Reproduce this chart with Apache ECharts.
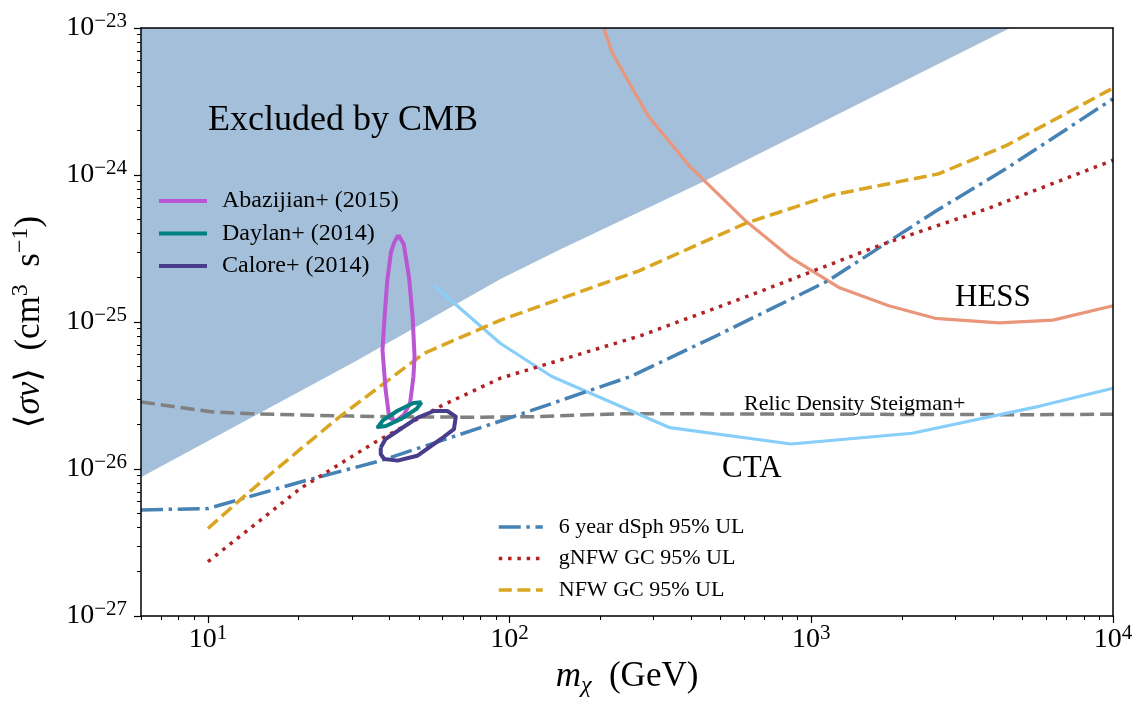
<!DOCTYPE html>
<html>
<head>
<meta charset="utf-8">
<script src="https://cdn.jsdelivr.net/npm/echarts@6/dist/echarts.min.js"></script>
<style>
html,body{margin:0;padding:0;background:#fff;overflow:hidden;}
#chart{width:1136px;height:703px;}
</style>
</head>
<body>
<div id="chart"></div>
<script>
// ---------------- data ----------------
const massMin = 6, massMax = 1e4;
const sigmaMinExp = -27, sigmaMaxExp = -23;
const xTickExps = [1, 2, 3, 4];
const yTickExps = [-27, -26, -25, -24, -23];

const cmbMass  = [6, 31.4, 93.3, 147.6, 438, 4560];
const cmbSigma = [8.8e-27, 5.52e-26, 1.96e-25, 3.12e-25, 9.0e-25, 1e-23];

const relicMass  = [6, 10.4, 13.9, 20, 30, 50, 80, 120, 238, 500, 1000, 5730, 10000];
const relicSigma = [2.86e-26, 2.44e-26, 2.38e-26, 2.33e-26, 2.29e-26, 2.26e-26, 2.25e-26, 2.27e-26, 2.38e-26, 2.37e-26, 2.36e-26, 2.34e-26, 2.36e-26];

const dsphMass  = [6, 10, 20, 37.4, 93.3, 252, 489, 1138, 2574, 4440, 10000];
const dsphSigma = [5.27e-27, 5.38e-27, 8.1e-27, 1.14e-26, 2.12e-26, 4.26e-26, 8.13e-26, 1.91e-25, 5.65e-25, 1.11e-24, 3.3e-24];

const gnfwMass  = [10, 20.3, 35.6, 59.2, 93.3, 275, 643, 1710, 3870, 10000];
const gnfwSigma = [2.34e-27, 7.4e-27, 1.51e-26, 2.68e-26, 4.15e-26, 8.13e-26, 1.55e-25, 3.36e-25, 5.94e-25, 1.26e-24];

const nfwMass  = [10, 13.5, 20.3, 27.5, 52, 93.3, 147.6, 268.5, 608, 1170, 2650, 4440, 10000];
const nfwSigma = [3.94e-27, 6.8e-27, 1.37e-26, 2.29e-26, 6.12e-26, 1.03e-25, 1.44e-25, 2.23e-25, 4.71e-25, 7.31e-25, 1.02e-24, 1.59e-24, 3.9e-24];

const ctaMass  = [56.1, 93.3, 138, 340, 857, 2160, 5730, 10000];
const ctaSigma = [1.77e-25, 7.14e-26, 4.26e-26, 1.91e-26, 1.48e-26, 1.75e-26, 2.68e-26, 3.54e-26];

const hessMass  = [205, 219, 287.5, 393, 608, 855, 1234, 1806, 2574, 4200, 6320, 10000];
const hessSigma = [1e-23, 6.76e-24, 2.53e-24, 1.16e-24, 4.84e-25, 2.74e-25, 1.72e-25, 1.29e-25, 1.06e-25, 9.85e-26, 1.03e-25, 1.29e-25];

const abazMass  = [42.8, 44.6, 46.4, 47.7, 48.4, 48.0, 46.8, 44.7, 42.0, 39.9, 38.8, 37.9, 38.5, 39.3, 40.4, 41.4, 42.8];
const abazSigma = [3.9e-25, 3.37e-25, 2.01e-25, 1.08e-25, 5.81e-26, 4.26e-26, 2.82e-26, 2.35e-26, 2.12e-26, 2.23e-26, 3.47e-26, 6.44e-26, 1.08e-25, 1.91e-25, 2.96e-25, 3.46e-25, 3.9e-25];

const daylanMass  = [51.1, 49.2, 44.0, 38.9, 36.6, 38.0, 42.5, 48.0, 51.1];
const daylanSigma = [2.85e-26, 2.57e-26, 2.21e-26, 1.96e-26, 1.93e-26, 2.14e-26, 2.49e-26, 2.81e-26, 2.85e-26];

const caloreMass  = [37.4, 38.8, 43.5, 49.4, 56.1, 62.2, 66.3, 65.4, 59.2, 49.4, 42.5, 38.4, 37.4, 37.4];
const caloreSigma = [1.40e-26, 1.60e-26, 1.87e-26, 2.23e-26, 2.48e-26, 2.48e-26, 2.27e-26, 1.87e-26, 1.60e-26, 1.23e-26, 1.14e-26, 1.17e-26, 1.26e-26, 1.40e-26];

const legendTop = ['Abazijian+ (2015)', 'Daylan+ (2014)', 'Calore+ (2014)'];
const legendBottom = ['6 year dSph 95% UL', 'gNFW GC 95% UL', 'NFW GC 95% UL'];

// ---------------- helpers ----------------
const FONT = '"Liberation Serif","DejaVu Serif",serif';
const L = Math.log10;
const pts = (ms, ss) => ms.map((m, i) => [L(m), L(ss[i])]);
function minorLogs(lo, hi) {
  const out = [];
  for (let e = lo; e < hi; e++) for (let k = 2; k <= 9; k++) out.push(e + L(k));
  return out;
}
const xMinor = minorLogs(0, 4).filter(v => v >= L(massMin) && v <= L(massMax));
const yMinor = minorLogs(sigmaMinExp, sigmaMaxExp);

const tickRich = {
  b: {fontFamily: FONT, fontSize: 28, lineHeight: 34, color: '#000'},
  s: {fontFamily: FONT, fontSize: 21, lineHeight: 24, verticalAlign: 'top', color: '#000'}
};
const nameRich = {
  n: {fontFamily: FONT, fontSize: 35, lineHeight: 42, color: '#000'},
  i: {fontFamily: FONT, fontSize: 35, lineHeight: 42, fontStyle: 'italic', color: '#000'},
  s: {fontFamily: FONT, fontSize: 24, lineHeight: 26, verticalAlign: 'top', color: '#000'},
  sub: {fontFamily: FONT, fontSize: 24, lineHeight: 20, fontStyle: 'italic', verticalAlign: 'bottom', color: '#000'}
};

const common = {type: 'value', min: L(massMin), max: L(massMax), splitLine: {show: false}, z: 10};
const ycommon = {type: 'value', min: sigmaMinExp, max: sigmaMaxExp, splitLine: {show: false}, z: 10};
const axisLine = {show: true, lineStyle: {color: '#000', width: 1.5}};

function lineSeries(name, data, color, width, type, extra) {
  return Object.assign({
    name, type: 'line', data, symbol: 'none', showSymbol: false, smooth: false,
    xAxisIndex: 0, yAxisIndex: 0, animation: false,
    lineStyle: {color, width, type, cap: 'butt', join: 'round'},
    itemStyle: {color}
  }, extra || {});
}

const chart = echarts.init(document.getElementById('chart'), null, {renderer: 'canvas'});
const option = {
  backgroundColor: '#fff',
  animation: false,
  grid: {left: 141, right: 23, top: 28, bottom: 81, containLabel: false},
  xAxis: [
    Object.assign({}, common, {
      position: 'bottom', axisLine,
      axisTick: {show: true, inside: false, length: 7, customValues: xTickExps, lineStyle: {color: '#000', width: 1.2}},
      axisLabel: {show: true, margin: 7, customValues: xTickExps, formatter: v => '{b|10}{s|' + Math.round(v) + '}', rich: tickRich},
      name: '{i|m}{sub|χ}{n|  (GeV)}', nameLocation: 'middle', nameGap: 40,
      nameTextStyle: {fontFamily: FONT, fontSize: 35, color: '#000', rich: nameRich}
    }),
    Object.assign({}, common, {
      position: 'bottom', axisLine: {show: false},
      axisTick: {show: true, inside: false, length: 4, customValues: xMinor, lineStyle: {color: '#000', width: 1}},
      axisLabel: {show: false}
    }),
    Object.assign({}, common, {
      position: 'top', axisLine, axisTick: {show: false}, axisLabel: {show: false}
    })
  ],
  yAxis: [
    Object.assign({}, ycommon, {
      position: 'left', axisLine,
      axisTick: {show: true, inside: false, length: 7, customValues: yTickExps, lineStyle: {color: '#000', width: 1.2}},
      axisLabel: {show: true, margin: 14, customValues: yTickExps, formatter: v => '{b|10}{s|−' + Math.round(-v) + '}', rich: tickRich},
      name: '{n|⟨}{i|σv}{n|⟩  (cm}{s|3}{n|  s}{s|−1}{n|)}', nameLocation: 'middle', nameGap: 90,
      nameTextStyle: {fontFamily: FONT, fontSize: 35, color: '#000', rich: nameRich}
    }),
    Object.assign({}, ycommon, {
      position: 'left', axisLine: {show: false},
      axisTick: {show: true, inside: false, length: 4, customValues: yMinor, lineStyle: {color: '#000', width: 1}},
      axisLabel: {show: false}
    }),
    Object.assign({}, ycommon, {
      position: 'right', axisLine, axisTick: {show: false}, axisLabel: {show: false}
    })
  ],
  legend: [
    {
      data: legendTop, orient: 'vertical', left: 157, top: 189, padding: 0, itemWidth: 48, itemHeight: 14, itemGap: 8.5,
      selectedMode: false, itemStyle: {opacity: 0}, lineStyle: {width: 4},
      textStyle: {fontFamily: FONT, fontSize: 24, lineHeight: 24, color: '#000', padding: [0, 0, 0, 10]}
    },
    {
      data: legendBottom, orient: 'vertical', left: 497, top: 516, padding: 0, itemWidth: 44, itemHeight: 14, itemGap: 9.5,
      selectedMode: false, itemStyle: {opacity: 0}, lineStyle: {width: 3.5},
      textStyle: {fontFamily: FONT, fontSize: 22, lineHeight: 22, color: '#000', padding: [0, 0, 0, 11]}
    }
  ],
  graphic: [
    {type: 'text', z: 100, x: 208, y: 120.5, style: {text: 'Excluded by CMB', font: '36px ' + FONT, fill: '#000', textAlign: 'left', textVerticalAlign: 'middle'}},
    {type: 'text', z: 100, x: 955, y: 298, style: {text: 'HESS', font: '31px ' + FONT, fill: '#000', textAlign: 'left', textVerticalAlign: 'middle'}},
    {type: 'text', z: 100, x: 722, y: 468.5, style: {text: 'CTA', font: '31px ' + FONT, fill: '#000', textAlign: 'left', textVerticalAlign: 'middle'}},
    {type: 'text', z: 100, x: 744, y: 404, style: {text: 'Relic Density Steigman+', font: '22px ' + FONT, fill: '#000', textAlign: 'left', textVerticalAlign: 'middle'}}
  ],
  series: [
    {
      name: 'CMB', type: 'line', data: pts(cmbMass, cmbSigma), symbol: 'none', showSymbol: false,
      xAxisIndex: 0, yAxisIndex: 0, lineStyle: {width: 0, color: '#a3bfd9'},
      areaStyle: {origin: 'end', color: '#a3bfd9', opacity: 1}, z: 1
    },
    lineSeries('Relic', pts(relicMass, relicSigma), '#808080', 3.5, [14, 6]),
    lineSeries('CTA', pts(ctaMass, ctaSigma), '#87cefa', 3.2, 'solid'),
    lineSeries('HESS', pts(hessMass, hessSigma), '#e9967a', 3.2, 'solid'),
    lineSeries('6 year dSph 95% UL', pts(dsphMass, dsphSigma), '#4682b4', 3.5, [22, 5.6, 3.5, 5.6]),
    lineSeries('gNFW GC 95% UL', pts(gnfwMass, gnfwSigma), '#b22222', 3.5, [3.5, 5.8]),
    lineSeries('NFW GC 95% UL', pts(nfwMass, nfwSigma), '#daa520', 3.5, [13, 5.6]),
    lineSeries('Abazijian+ (2015)', pts(abazMass, abazSigma), '#ba55d3', 4, 'solid', {z: 5}),
    lineSeries('Daylan+ (2014)', pts(daylanMass, daylanSigma), '#008080', 4, 'solid', {z: 5}),
    lineSeries('Calore+ (2014)', pts(caloreMass, caloreSigma), '#483d8b', 4, 'solid', {z: 5})
  ]
};
chart.setOption(option);
</script>
</body>
</html>
